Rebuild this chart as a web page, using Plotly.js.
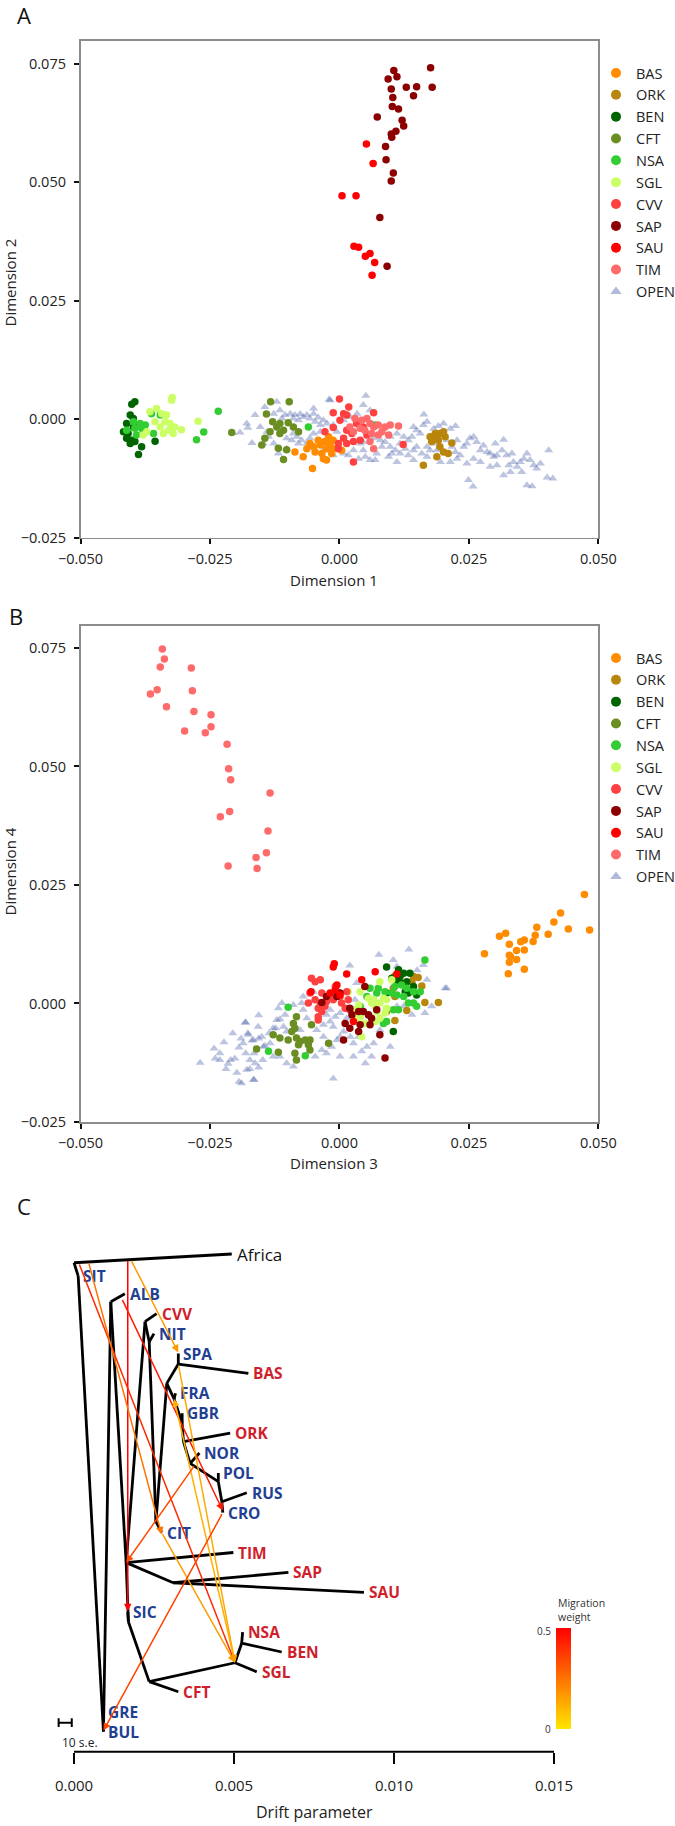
<!DOCTYPE html>
<html>
<head>
<meta charset="utf-8">
<script src="https://cdn.plot.ly/plotly-3.0.1.min.js"></script>
<style>html,body{margin:0;padding:0;background:#fff;}#chart{width:675px;height:1826px;}</style>
</head>
<body>
<div id="chart"></div>
<script>
// ---------------- DATA: panel A (Dimension 1 vs Dimension 2) ----------------
const groups = ["BAS","ORK","BEN","CFT","NSA","SGL","CVV","SAP","SAU","TIM"];
const A_BAS = [[-0.0057,-0.0051],[-0.0050,-0.0058],[-0.0041,-0.0044],[-0.0037,-0.0054],[-0.0028,-0.0047],[-0.0021,-0.0037],[-0.0018,-0.0051],[-0.0012,-0.0044],[-0.0047,-0.0069],[-0.0034,-0.0072],[-0.0031,-0.0083],[-0.0025,-0.0086],[-0.0015,-0.0072],[-0.0012,-0.0062],[-0.0070,-0.0079],[-0.0086,-0.0069],[-0.0052,-0.0104],[0.0004,-0.0065],[-0.0063,-0.0062],[-0.0025,-0.0062]];
const A_ORK = [[0.0175,-0.0037],[0.0181,-0.0040],[0.0188,-0.0033],[0.0194,-0.0030],[0.0201,-0.0026],[0.0178,-0.0047],[0.0191,-0.0044],[0.0204,-0.0037],[0.0194,-0.0058],[0.0201,-0.0069],[0.0210,-0.0072],[0.0217,-0.0050],[0.0188,-0.0079],[0.0162,-0.0097],[0.0185,-0.0030]];
const A_BEN = [[-0.0401,0.0032],[-0.0395,0.0037],[-0.0404,0.0009],[-0.0398,0.0002],[-0.0417,-0.0026],[-0.0408,-0.0030],[-0.0411,-0.0040],[-0.0401,-0.0044],[-0.0404,-0.0051],[-0.0395,-0.0047],[-0.0382,-0.0058],[-0.0388,-0.0074],[-0.0356,-0.0046],[-0.0388,-0.0012],[-0.0398,-0.0016],[-0.0411,-0.0009]];
const A_CFT = [[-0.0133,0.0037],[-0.0097,0.0037],[-0.0141,0.0011],[-0.0129,-0.0005],[-0.0115,-0.0009],[-0.0099,-0.0007],[-0.0121,-0.0016],[-0.0108,-0.0023],[-0.0134,-0.0026],[-0.0079,-0.0026],[-0.0089,-0.0016],[-0.0150,-0.0054],[-0.0118,-0.0061],[-0.0102,-0.0064],[-0.0108,-0.0085],[-0.0208,-0.0028],[-0.0144,-0.0040],[-0.0115,-0.0030]];
const A_NSA = [[-0.0385,-0.0009],[-0.0395,-0.0019],[-0.0382,-0.0019],[-0.0375,-0.0012],[-0.0379,-0.0030],[-0.0392,-0.0033],[-0.0411,-0.0023],[-0.0398,-0.0005],[-0.0363,0.0012],[-0.0346,0.0009],[-0.0359,-0.0030],[-0.0234,0.0017],[-0.0262,-0.0027],[-0.0276,-0.0043],[-0.0060,-0.0016],[0.0069,-0.0012]];
const A_SGL = [[-0.0366,0.0016],[-0.0353,0.0023],[-0.0343,0.0012],[-0.0334,0.0009],[-0.0337,-0.0005],[-0.0327,-0.0009],[-0.0318,-0.0016],[-0.0330,-0.0023],[-0.0340,-0.0030],[-0.0346,-0.0016],[-0.0356,-0.0005],[-0.0372,-0.0026],[-0.0379,-0.0033],[-0.0321,-0.0030],[-0.0305,-0.0022],[-0.0273,-0.0004],[-0.0324,0.0040],[-0.0323,0.0046]];
const A_CVV = [[-0.0012,0.0014],[0.0008,0.0012],[0.0014,0.0009],[0.0001,-0.0002],[-0.0012,-0.0017],[-0.0028,-0.0026],[0.0014,-0.0023],[0.0024,-0.0030],[0.0008,-0.0040],[-0.0002,-0.0051],[0.0014,-0.0051],[0.0027,-0.0047],[0.0040,-0.0044],[0.0053,-0.0033],[0.0066,0.0014],[0.0027,-0.0090],[0.0046,-0.0016],[0.0033,-0.0009],[0.0123,-0.0053],[-0.0002,-0.0062],[0.0000,0.0043],[0.0018,0.0026]];
const A_SAP = [[0.0105,0.0736],[0.0094,0.0718],[0.0111,0.0723],[0.0176,0.0742],[0.0100,0.0697],[0.0129,0.0701],[0.0149,0.0702],[0.0179,0.0701],[0.0103,0.0679],[0.0143,0.0683],[0.0102,0.0660],[0.0114,0.0655],[0.0073,0.0638],[0.0121,0.0631],[0.0124,0.0619],[0.0100,0.0602],[0.0109,0.0608],[0.0101,0.0595],[0.0089,0.0576],[0.0090,0.0548],[0.0104,0.0520],[0.0100,0.0503],[0.0078,0.0426],[0.0092,0.0323]];
const A_SAU = [[0.0052,0.0581],[0.0065,0.0540],[0.0005,0.0472],[0.0032,0.0472],[0.0028,0.0365],[0.0037,0.0363],[0.0050,0.0344],[0.0059,0.0350],[0.0068,0.0331],[0.0063,0.0304]];
const A_TIM = [[0.0030,0.0002],[0.0043,-0.0002],[0.0053,0.0002],[0.0059,-0.0009],[0.0066,-0.0016],[0.0075,-0.0012],[0.0082,-0.0026],[0.0062,-0.0030],[0.0049,-0.0023],[0.0040,-0.0019],[0.0088,-0.0016],[0.0098,-0.0012],[0.0114,-0.0014],[0.0095,-0.0033],[0.0066,-0.0062],[0.0059,-0.0047],[0.0075,-0.0033],[0.0027,-0.0026],[0.0020,-0.0016]];
const A_OPEN = [[-0.0192,-0.0028],[-0.0179,-0.0009],[-0.0169,-0.0050],[-0.0163,0.0009],[-0.0153,-0.0016],[-0.0144,0.0026],[-0.0137,-0.0037],[-0.0127,0.0012],[-0.0121,0.0037],[-0.0115,0.0019],[-0.0111,0.0002],[-0.0105,0.0009],[-0.0095,0.0012],[-0.0089,0.0002],[-0.0086,0.0009],[-0.0079,-0.0002],[-0.0076,0.0011],[-0.0070,0.0005],[-0.0063,0.0009],[-0.0057,0.0002],[-0.0050,0.0012],[-0.0047,-0.0005],[-0.0041,0.0004],[-0.0037,-0.0012],[-0.0031,-0.0002],[-0.0024,-0.0009],[-0.0050,-0.0030],[-0.0057,-0.0040],[-0.0063,-0.0051],[-0.0073,-0.0044],[-0.0082,-0.0037],[-0.0092,-0.0044],[-0.0102,-0.0040],[-0.0050,0.0023],[-0.0018,0.0040],[-0.0037,-0.0026],[-0.0005,-0.0026],[-0.0012,-0.0012],[0.0008,-0.0002],[0.0021,0.0005],[0.0034,0.0012],[0.0046,0.0030],[0.0059,0.0019],[0.0066,-0.0040],[0.0079,-0.0044],[0.0088,-0.0048],[0.0098,-0.0058],[0.0108,-0.0065],[0.0095,-0.0079],[0.0111,-0.0090],[0.0117,-0.0051],[0.0127,-0.0062],[0.0133,-0.0044],[0.0140,-0.0037],[0.0143,-0.0016],[0.0149,-0.0023],[0.0156,-0.0030],[0.0162,-0.0012],[0.0169,-0.0005],[0.0182,-0.0020],[0.0191,-0.0014],[0.0201,-0.0009],[0.0214,-0.0020],[0.0224,-0.0014],[0.0143,-0.0065],[0.0149,-0.0058],[0.0159,-0.0072],[0.0169,-0.0058],[0.0175,-0.0065],[0.0133,-0.0076],[0.0117,-0.0072],[0.0101,-0.0072],[0.0082,-0.0058],[0.0072,-0.0072],[0.0059,-0.0086],[0.0046,-0.0065],[0.0040,-0.0051],[0.0050,-0.0079],[0.0069,-0.0086],[0.0207,-0.0044],[0.0217,-0.0058],[0.0224,-0.0069],[0.0227,-0.0083],[0.0214,-0.0090],[0.0240,-0.0058],[0.0246,-0.0051],[0.0252,-0.0040],[0.0259,-0.0037],[0.0265,-0.0048],[0.0272,-0.0065],[0.0278,-0.0055],[0.0285,-0.0069],[0.0291,-0.0072],[0.0298,-0.0079],[0.0304,-0.0076],[0.0314,-0.0065],[0.0301,-0.0051],[0.0317,-0.0043],[0.0323,-0.0076],[0.0333,-0.0072],[0.0336,-0.0090],[0.0327,-0.0097],[0.0343,-0.0100],[0.0349,-0.0090],[0.0356,-0.0083],[0.0362,-0.0072],[0.0368,-0.0086],[0.0375,-0.0097],[0.0381,-0.0104],[0.0388,-0.0093],[0.0362,-0.0139],[0.0372,-0.0141],[0.0352,-0.0111],[0.0404,-0.0065],[0.0401,-0.0123],[0.0412,-0.0125],[0.0317,-0.0118],[0.0330,-0.0111],[0.0249,-0.0128],[0.0258,-0.0142],[0.0291,-0.0100],[0.0246,-0.0093],[0.0272,-0.0090],[0.0304,-0.0097],[0.0259,-0.0083],[0.0233,-0.0076],[0.0182,-0.0051],[0.0188,-0.0065],[0.0195,-0.0090],[0.0169,-0.0079],[0.0143,-0.0086],[0.0227,-0.0044],[0.0124,-0.0037],[0.0111,-0.0030],[0.0098,-0.0037],[-0.0102,-0.0062],[-0.0118,-0.0072],[-0.0127,-0.0051],[-0.0140,-0.0026],[-0.0147,-0.0051],[-0.0089,-0.0030],[-0.0079,-0.0051],[0.0027,-0.0065],[0.0017,-0.0076],[0.0008,-0.0072],[0.0037,-0.0083],[0.0046,-0.0048],[-0.0005,-0.0058],[-0.0012,-0.0076],[-0.0031,-0.0065],[0.0051,0.0050],[-0.0206,-0.0029],[-0.0177,-0.0018],[-0.0020,0.0042],[0.0163,0.0010]];

// ---------------- DATA: panel B (Dimension 3 vs Dimension 4) ----------------
const B_BAS = [[0.0473,0.0230],[0.0427,0.0191],[0.0414,0.0172],[0.0483,0.0155],[0.0442,0.0157],[0.0381,0.0161],[0.0403,0.0146],[0.0378,0.0144],[0.0374,0.0131],[0.0357,0.0134],[0.0350,0.0130],[0.0309,0.0142],[0.0321,0.0148],[0.0328,0.0125],[0.0280,0.0105],[0.0328,0.0102],[0.0342,0.0112],[0.0357,0.0113],[0.0328,0.0087],[0.0342,0.0093],[0.0357,0.0072],[0.0326,0.0063],[0.0330,0.0099]];
const B_ORK = [[0.0107,0.0058],[0.0143,0.0057],[0.0152,0.0055],[0.0140,0.0046],[0.0159,0.0037],[0.0130,0.0023],[0.0107,0.0015],[0.0165,0.0002],[0.0191,0.0002],[0.0130,-0.0015],[0.0107,-0.0036],[0.0091,-0.0017],[0.0104,0.0032]];
const B_BEN = [[0.0091,0.0077],[0.0114,0.0071],[0.0111,0.0060],[0.0117,0.0057],[0.0124,0.0064],[0.0136,0.0064],[0.0130,0.0046],[0.0120,0.0043],[0.0111,0.0046],[0.0143,0.0036],[0.0149,0.0018],[0.0133,0.0022],[0.0104,-0.0059],[0.0091,0.0022],[0.0127,0.0025],[0.0101,0.0053]];
const B_CFT = [[-0.0083,-0.0028],[-0.0089,-0.0042],[-0.0086,-0.0052],[-0.0092,-0.0059],[-0.0054,-0.0045],[-0.0128,-0.0066],[-0.0115,-0.0073],[-0.0099,-0.0077],[-0.0083,-0.0073],[-0.0076,-0.0080],[-0.0066,-0.0077],[-0.0057,-0.0077],[-0.0060,-0.0087],[-0.0079,-0.0087],[-0.0086,-0.0105],[-0.0057,-0.0098],[-0.0083,-0.0119],[-0.0160,-0.0096],[-0.0118,-0.0103],[-0.0021,-0.0084]];
const B_NSA = [[-0.0099,-0.0008],[-0.0137,-0.0101],[-0.0066,-0.0110],[0.0059,0.0032],[0.0075,0.0032],[0.0088,0.0025],[0.0101,0.0022],[0.0111,0.0018],[0.0124,0.0015],[0.0133,0.0001],[0.0143,0.0001],[0.0149,-0.0006],[0.0114,-0.0013],[0.0104,-0.0013],[0.0091,-0.0038],[0.0085,-0.0042],[0.0053,0.0015],[0.0165,0.0092],[0.0143,0.0025],[0.0156,0.0025],[0.0130,0.0032],[0.0120,0.0039],[0.0107,0.0036],[0.0072,0.0022],[0.0040,-0.0006]];
const B_SGL = [[0.0017,0.0025],[0.0040,0.0025],[0.0037,-0.0003],[0.0030,-0.0013],[0.0027,-0.0024],[0.0040,-0.0028],[0.0033,-0.0038],[0.0049,-0.0042],[0.0062,0.0001],[0.0066,0.0008],[0.0069,-0.0006],[0.0072,-0.0017],[0.0078,0.0001],[0.0085,0.0011],[0.0091,0.0008],[0.0091,-0.0010],[0.0088,-0.0020],[0.0078,-0.0031],[0.0069,-0.0038],[0.0062,-0.0031],[0.0043,-0.0070],[0.0101,0.0050],[0.0078,0.0046],[0.0056,0.0011]];
const B_CVV = [[-0.0054,0.0053],[-0.0047,0.0046],[-0.0037,0.0050],[-0.0057,0.0022],[-0.0034,0.0022],[-0.0018,0.0018],[-0.0008,0.0036],[-0.0005,0.0025],[0.0001,0.0015],[-0.0012,0.0008],[-0.0025,0.0004],[-0.0037,0.0001],[-0.0047,0.0008],[-0.0060,0.0001],[-0.0041,-0.0010],[-0.0034,-0.0017],[-0.0041,-0.0028],[-0.0041,-0.0035],[-0.0028,-0.0006],[0.0004,0.0001],[0.0011,-0.0010],[0.0017,0.0008],[0.0020,-0.0013],[0.0014,0.0025]];
const B_SAP = [[-0.0034,0.0002],[-0.0025,0.0015],[-0.0005,0.0015],[0.0001,0.0022],[0.0049,0.0036],[0.0020,-0.0010],[0.0024,-0.0024],[0.0037,-0.0017],[0.0046,-0.0017],[0.0056,-0.0024],[0.0062,-0.0031],[0.0059,-0.0045],[0.0011,-0.0042],[0.0020,-0.0052],[0.0008,-0.0077],[0.0037,-0.0059],[0.0078,-0.0066],[0.0088,-0.0115],[0.0072,-0.0013],[0.0040,-0.0045]];
const B_SAU = [[-0.0010,0.0084],[-0.0012,0.0077],[0.0014,0.0062],[-0.0055,0.0025],[-0.0018,0.0022],[-0.0008,0.0029],[-0.0005,0.0039],[0.0043,0.0050],[0.0069,0.0067],[0.0111,0.0062],[0.0027,-0.0038],[0.0001,0.0018]];
const B_TIM = [[-0.0342,0.0748],[-0.0338,0.0727],[-0.0346,0.0710],[-0.0286,0.0708],[-0.0352,0.0662],[-0.0365,0.0653],[-0.0284,0.0660],[-0.0334,0.0626],[-0.0281,0.0616],[-0.0248,0.0609],[-0.0248,0.0584],[-0.0299,0.0575],[-0.0259,0.0571],[-0.0217,0.0547],[-0.0214,0.0495],[-0.0210,0.0472],[-0.0134,0.0444],[-0.0230,0.0394],[-0.0212,0.0405],[-0.0138,0.0364],[-0.0141,0.0318],[-0.0161,0.0308],[-0.0215,0.0290],[-0.0159,0.0285]];
const B_OPEN = [[-0.0269,-0.0125],[-0.0242,-0.0095],[-0.0231,-0.0105],[-0.0223,-0.0082],[-0.0215,-0.0127],[-0.0198,-0.0146],[-0.0194,-0.0165],[-0.0181,-0.0105],[-0.0173,-0.0138],[-0.0165,-0.0161],[-0.0156,-0.0025],[-0.0181,-0.0040],[-0.0206,-0.0063],[-0.0194,-0.0093],[-0.0210,-0.0119],[-0.0231,-0.0119],[-0.0219,-0.0138],[-0.0202,-0.0116],[-0.0156,-0.0074],[-0.0144,-0.0089],[-0.0136,-0.0063],[-0.0123,-0.0052],[-0.0115,-0.0033],[-0.0169,-0.0078],[-0.0177,-0.0063],[-0.0240,-0.0116],[-0.0190,-0.0074],[-0.0148,-0.0119],[-0.0156,-0.0135],[-0.0165,-0.0105],[-0.0182,-0.0040],[-0.0176,-0.0066],[-0.0186,-0.0084],[-0.0166,-0.0077],[-0.0157,-0.0049],[-0.0150,-0.0070],[-0.0147,-0.0091],[-0.0134,-0.0084],[-0.0128,-0.0112],[-0.0173,-0.0119],[-0.0163,-0.0126],[-0.0179,-0.0140],[-0.0166,-0.0161],[-0.0189,-0.0168],[-0.0111,0.0001],[-0.0121,-0.0035],[-0.0108,-0.0049],[-0.0102,-0.0059],[-0.0118,-0.0010],[-0.0128,-0.0052],[-0.0102,-0.0126],[-0.0089,-0.0133],[-0.0115,-0.0112],[-0.0076,-0.0056],[-0.0073,0.0001],[-0.0070,-0.0013],[-0.0063,-0.0031],[-0.0044,-0.0056],[-0.0031,-0.0070],[-0.0034,-0.0098],[-0.0025,-0.0105],[-0.0015,-0.0091],[-0.0005,-0.0077],[0.0001,-0.0070],[0.0008,-0.0059],[-0.0012,-0.0049],[-0.0018,-0.0038],[-0.0008,-0.0028],[0.0001,-0.0020],[0.0014,-0.0031],[0.0021,-0.0070],[0.0027,-0.0084],[0.0037,-0.0070],[0.0043,-0.0101],[0.0053,-0.0091],[0.0062,-0.0112],[0.0050,-0.0126],[0.0027,-0.0112],[0.0001,-0.0112],[-0.0012,-0.0158],[-0.0047,-0.0112],[-0.0031,-0.0045],[-0.0025,-0.0024],[-0.0018,-0.0013],[0.0033,0.0043],[0.0030,0.0008],[0.0066,-0.0084],[0.0078,-0.0056],[0.0104,0.0092],[0.0111,0.0078],[0.0162,0.0081],[0.0165,-0.0020],[0.0178,-0.0006],[0.0169,0.0050],[0.0204,0.0032],[0.0207,0.0032],[0.0111,-0.0006],[0.0124,-0.0006],[0.0140,-0.0024],[0.0098,-0.0091],[-0.0050,0.0025],[-0.0070,0.0015],[-0.0105,-0.0024],[-0.0089,-0.0003],[0.0076,0.0103],[0.0134,0.0114],[0.0020,0.0080],[0.0150,0.0070]];

// ---------------- DATA: panel C (TreeMix tree; x = drift parameter, y = leaf order) ----------------
const leafNames = ["Africa","SIT","ALB","CVV","NIT","SPA","BAS","FRA","GBR","ORK","NOR","POL","RUS","CRO","CIT","TIM","SAP","SAU","SIC","NSA","BEN","SGL","CFT","GRE","BUL"];
const leafDrift = [0.00493,0.00013,0.00159,0.00258,0.00250,0.00326,0.00545,0.00317,0.00338,0.00488,0.00392,0.00451,0.00540,0.00465,0.00274,0.00498,0.00670,0.00906,0.00168,0.00527,0.00649,0.00571,0.00326,0.00092,0.00092];
const leafPos   = [0,1.1,2,3,4,5,6,7,8,9,10,11,12,13,14,15,16,17,18,19,20,21,22,23,24];
const leafType  = ["out","ref","ref","anc","ref","ref","anc","ref","ref","anc","ref","ref","ref","ref","ref","anc","anc","anc","ref","anc","anc","anc","anc","ref","ref"];
const innerNames = ["R","A1","N3","P1","NN","CN","P2","PSB","FN","GN","ON","NRN","PN","RN","N4","SN","N5","N6","N7"];
const innerDrift = [0.00000,0.00115,0.00163,0.00222,0.00235,0.00256,0.00290,0.00326,0.00313,0.00338,0.00342,0.00363,0.00451,0.00462,0.00310,0.00170,0.00235,0.00503,0.00524];
const innerPos   = [0.44,2.40,15.51,3.40,4.41,13.45,6.50,5.53,7.29,8.49,9.43,10.52,11.44,12.45,16.52,18.48,21.49,20.54,19.56];
const edgeFrom = ["R","R","SIT","BUL","A1","A1","N3","P1","P1","NN","NN","CN","CN","P2","PSB","PSB","P2","FN","FN","GN","GN","ON","ON","NRN","NRN","PN","PN","RN","RN","N3","N3","N4","N4","N3","SN","SN","N5","N5","N6","N6","N7","N7"];
const edgeTo   = ["Africa","SIT","BUL","A1","ALB","N3","P1","CVV","NN","NIT","CN","CIT","P2","PSB","SPA","BAS","FN","FRA","GN","GBR","ON","ORK","NRN","NOR","PN","POL","RN","RUS","CRO","TIM","N4","SAP","SAU","SN","SIC","N5","CFT","N6","SGL","N7","NSA","BEN"];
// migration edges: source point (drift, pos) -> target point (drift, pos), weight colour
const migSrcDrift = [0.00168,0.00177,0.00149,0.00015,0.00045,0.00326,0.00503,0.00274,0.00378,0.00465];
const migSrcPos   = [0.28,0.27,2.23,0.45,0.39,5.53,20.54,14.0,10.6,13.0];
const migDstDrift = [0.00168,0.00326,0.00465,0.00503,0.00274,0.00503,0.00313,0.00503,0.00163,0.00092];
const migDstPos   = [17.95,4.95,12.9,20.54,14.1,20.54,7.29,20.54,15.51,23.95];
const migColor    = ["#ff0000","#ff9a00","#ff1a00","#ff2a00","#ff7400","#ffa800","#ffb000","#ff9c00","#ff4a00","#ff4400"];
const seBar = {start:-0.00048, width:0.00041, pos:23.55}; // "10 s.e." scale bar
const migScale = {min:0, max:0.5};

// ---------------- STYLE ----------------
const colors = {BAS:"#ff8c00",ORK:"#b8860b",BEN:"#006400",CFT:"#6b8e23",NSA:"#32cd32",SGL:"#ccff66",CVV:"#ff4040",SAP:"#8b0000",SAU:"#ff0000",TIM:"#ff6a6a"};
const openColor = "rgba(70,92,165,0.36)";
const FONT = "'Open Sans', 'Noto Sans', sans-serif";
const W = 675, H = 1826;
const px = v => v / W, py = v => 1 - v / H;

const dataA = {BAS:A_BAS,ORK:A_ORK,BEN:A_BEN,CFT:A_CFT,NSA:A_NSA,SGL:A_SGL,CVV:A_CVV,SAP:A_SAP,SAU:A_SAU,TIM:A_TIM};
const dataB = {BAS:B_BAS,ORK:B_ORK,BEN:B_BEN,CFT:B_CFT,NSA:B_NSA,SGL:B_SGL,CVV:B_CVV,SAP:B_SAP,SAU:B_SAU,TIM:B_TIM};

const traces = [];
function addPanel(data, open, xa, ya, legendId) {
  traces.push({type:"scatter", mode:"markers", name:"OPEN", x:open.map(p=>p[0]), y:open.map(p=>p[1]),
    xaxis:xa, yaxis:ya, showlegend:false,
    marker:{symbol:"triangle-up", size:8, color:openColor, line:{width:0}}});
  groups.forEach(g => {
    traces.push({type:"scatter", mode:"markers", name:g, x:data[g].map(p=>p[0]), y:data[g].map(p=>p[1]),
      xaxis:xa, yaxis:ya, showlegend:false,
      marker:{symbol:"circle", size:7.5, color:colors[g], line:{width:0}}});
  });
  // legend entries (larger symbols, as in the original key)
  groups.forEach(g => {
    traces.push({type:"scatter", mode:"markers", name:g, x:[null], y:[null], xaxis:xa, yaxis:ya, legend:legendId,
      marker:{symbol:"circle", size:10, color:colors[g], line:{width:0}}});
  });
  traces.push({type:"scatter", mode:"markers", name:"OPEN", x:[null], y:[null], xaxis:xa, yaxis:ya, legend:legendId,
    marker:{symbol:"triangle-up", size:10, color:"rgba(70,92,165,0.42)", line:{width:0}}});
}
addPanel(dataA, A_OPEN, "x", "y", "legend");
addPanel(dataB, B_OPEN, "x2", "y2", "legend2");

// tree lines
const nodeMap = {};
leafNames.forEach((n,i)=>nodeMap[n]=[leafDrift[i], leafPos[i]]);
innerNames.forEach((n,i)=>nodeMap[n]=[innerDrift[i], innerPos[i]]);
const tx=[], ty=[];
edgeFrom.forEach((f,i)=>{ const a=nodeMap[f], b=nodeMap[edgeTo[i]]; tx.push(a[0],b[0],null); ty.push(a[1],b[1],null); });
traces.push({type:"scatter", mode:"lines", x:tx, y:ty, xaxis:"x3", yaxis:"y3", showlegend:false,
  line:{color:"#000", width:2.8}, hoverinfo:"skip"});
// colour scale carrier for migration weight
traces.push({type:"scatter", mode:"markers", x:[0.0001], y:[-0.5], xaxis:"x3", yaxis:"y3", showlegend:false, opacity:0,
  marker:{size:1, color:[migScale.min], cmin:migScale.min, cmax:migScale.max,
    colorscale:[[0,"#ffe600"],[1,"#ff0000"]], showscale:true,
    colorbar:{x:px(556), xanchor:"left", y:py(1729.3), yanchor:"bottom", len:101/H, lenmode:"fraction",
      thickness:15, thicknessmode:"pixels", xpad:0, ypad:0, outlinewidth:0, showticklabels:false, ticks:""}}});

const axisCommon = {showgrid:false, zeroline:false, showline:true, mirror:true, linecolor:"#8c8c8c", linewidth:1.6,
  ticks:"outside", ticklen:5, tickwidth:2, tickcolor:"#111", tickfont:{family:FONT, size:14.5, color:"#222"}, tickformat:".3f"};
const xTicks = [-0.05,-0.025,0,0.025,0.05];
const yTicks = [-0.025,0,0.025,0.05,0.075];

const annotations = [];
function txt(text, x, y, opts) { annotations.push(Object.assign({text, x, y, xref:"paper", yref:"paper", showarrow:false,
  xanchor:"center", yanchor:"middle", font:{family:FONT, size:15, color:"#222"}}, opts||{})); }
txt("A", px(23.7), py(15), {font:{family:FONT,size:22,color:"#111"}});
txt("B", px(16.4), py(616), {font:{family:FONT,size:22,color:"#111"}});
txt("C", px(23.7), py(1205.5), {font:{family:FONT,size:22,color:"#111"}});
txt("Dimension 1", px(334), py(580));
txt("Dimension 2", px(9.5), py(283), {textangle:-90});
txt("Dimension 3", px(334), py(1163));
txt("Dimension 4", px(9.5), py(872), {textangle:-90});
txt("Drift parameter", px(314), py(1812), {font:{family:FONT,size:16,color:"#222"}});
txt("Migration<br>weight", px(556), py(1626), {xanchor:"left", yanchor:"bottom", align:"left", font:{family:FONT,size:10.5,color:"#333"}});
txt(String(migScale.max), px(553), py(1630.7), {xanchor:"right", font:{family:FONT,size:10,color:"#333"}});
txt(String(migScale.min), px(553), py(1729), {xanchor:"right", font:{family:FONT,size:10,color:"#333"}});

// tree labels
const typeColor = {out:"#111", ref:"#233f92", anc:"#cf1f2c"};
leafNames.forEach((n,i)=>{
  annotations.push({text: leafType[i]==="out" ? n : "<b>"+n+"</b>", x:leafDrift[i], y:leafPos[i], xref:"x3", yref:"y3",
    showarrow:false, xanchor:"left", yanchor:"middle", xshift:3,
    font:{family:FONT, size: leafType[i]==="out" ? 17 : 15.5, color:typeColor[leafType[i]]}});
});
// migration arrows
migColor.forEach((c,i)=>{
  annotations.push({text:"", x:migDstDrift[i], y:migDstPos[i], ax:migSrcDrift[i], ay:migSrcPos[i],
    xref:"x3", yref:"y3", axref:"x3", ayref:"y3", showarrow:true, arrowhead:2, arrowsize:1, arrowwidth:1.5,
    arrowcolor:c, standoff:0, startstandoff:0});
});
annotations.push({text:"10 s.e.", x:-0.00044, y:24.55, xref:"x3", yref:"y3", showarrow:false, xanchor:"left", yanchor:"middle",
  font:{family:FONT, size:12, color:"#222"}});

const shapes = [
  {type:"line", xref:"x3", yref:"y3 domain", x0:0, x1:0.015, y0:0, y1:0, line:{color:"#000", width:2}},
  {type:"line", xref:"x3", yref:"y3", x0:seBar.start, x1:seBar.start+seBar.width, y0:seBar.pos, y1:seBar.pos, line:{color:"#000", width:2}},
  {type:"line", xref:"x3", yref:"y3", x0:seBar.start, x1:seBar.start, y0:seBar.pos-0.22, y1:seBar.pos+0.22, line:{color:"#000", width:2}},
  {type:"line", xref:"x3", yref:"y3", x0:seBar.start+seBar.width, x1:seBar.start+seBar.width, y0:seBar.pos-0.22, y1:seBar.pos+0.22, line:{color:"#000", width:2}}
];

const legendCommon = {xanchor:"left", yanchor:"top", bgcolor:"rgba(0,0,0,0)", borderwidth:0, tracegroupgap:0,
  font:{family:FONT, size:14.5, color:"#222"}, itemwidth:30};

const layout = {
  width:W, height:H, margin:{l:0,r:0,t:0,b:0,autoexpand:false}, paper_bgcolor:"#fff", plot_bgcolor:"#fff",
  font:{family:FONT}, showlegend:true,
  legend:Object.assign({x:px(596), y:py(57)}, legendCommon),
  legend2:Object.assign({x:px(596), y:py(642)}, legendCommon),
  xaxis:Object.assign({domain:[px(80.5), px(598.4)], range:[-0.05,0.05], tickvals:xTicks, anchor:"y", ticklabelstandoff:2}, axisCommon),
  yaxis:Object.assign({domain:[py(537.8), py(40.7)], range:[-0.025,0.0799], tickvals:yTicks, anchor:"x", ticklabelstandoff:5}, axisCommon),
  xaxis2:Object.assign({domain:[px(80.5), px(598.4)], range:[-0.05,0.05], tickvals:xTicks, anchor:"y2", ticklabelstandoff:2}, axisCommon),
  yaxis2:Object.assign({domain:[py(1122), py(625.7)], range:[-0.025,0.0797], tickvals:yTicks, anchor:"x2", ticklabelstandoff:5}, axisCommon),
  xaxis3:{domain:[px(54.8), px(624.4)], range:[-0.0006,0.0172], anchor:"y3", showgrid:false, zeroline:false, showline:false,
    ticks:"outside", ticklen:11, tickwidth:2, tickcolor:"#000", tickvals:[0,0.005,0.01,0.015], tickformat:".3f",
    tickfont:{family:FONT, size:15, color:"#222"}, ticklabelstandoff:9},
  yaxis3:{domain:[py(1751.7), py(1230)], range:[25.01,-1.206], anchor:"x3", visible:false, showgrid:false, zeroline:false},
  annotations, shapes
};

Plotly.newPlot("chart", traces, layout, {staticPlot:true, displayModeBar:false});
</script>
</body>
</html>
